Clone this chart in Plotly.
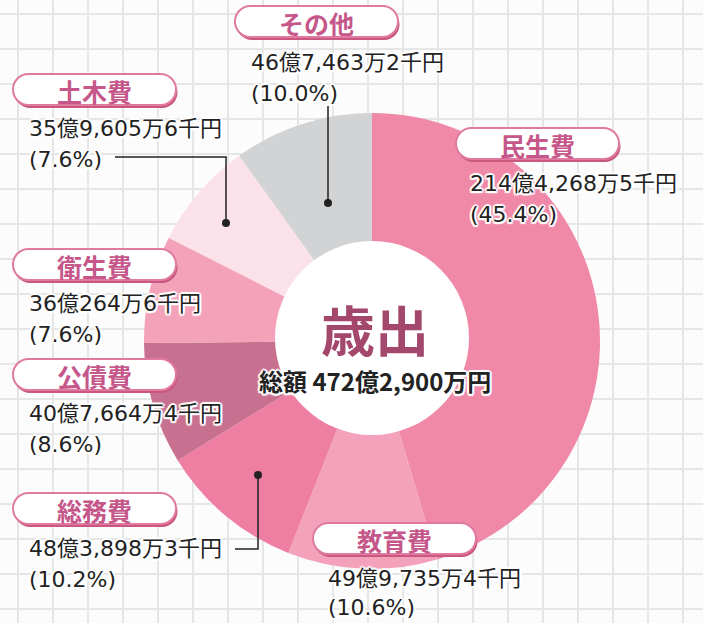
import plotly.graph_objects as go

# ---------------- data ----------------
categories = ["民生費", "教育費", "総務費", "公債費", "衛生費", "土木費", "その他"]
amounts_thousand_yen = [21442685, 4997354, 4838983, 4076644, 3602646, 3596056, 4674632]
amount_labels = ["214億4,268万5千円", "49億9,735万4千円", "48億3,898万3千円",
                 "40億7,664万4千円", "36億264万6千円", "35億9,605万6千円", "46億7,463万2千円"]
percent_labels = ["45.4%", "10.6%", "10.2%", "8.6%", "7.6%", "7.6%", "10.0%"]
center_title = "歳出"
total_label = "総額 472億2,900万円"

# ---------------- style ----------------
slice_colors = ["#f088a8", "#f4a1bb", "#ee7fa2", "#c8708f", "#f3a2ba", "#fbe2ea", "#d2d3d5"]
W, H = 703, 623
CX, CY, R = 372, 341, 228
HOLE_CX, HOLE_CY, HOLE_R = 372, 338, 97

# pill box (x0, y0) top-left, text anchor (x, y of first line, y of second line) per category
pill_xy = {
    "民生費": (456, 128), "教育費": (313, 523), "総務費": (13, 493),
    "公債費": (13, 359), "衛生費": (13, 249), "土木費": (13, 74), "その他": (235, 6),
}
text_xy = {
    "民生費": (468, 183, 214), "教育費": (326, 578, 607), "総務費": (27, 548, 579),
    "公債費": (27, 413, 444), "衛生費": (27, 303, 334), "土木費": (27, 128, 159), "その他": (249, 62, 93),
}
PILL_W, PILL_H = 163, 31
TEXT_SIZE = 22

FONT = "Noto Sans CJK JP"
VALUE_FONT = "DejaVu Sans, Noto Sans CJK JP"
halo = ("white 2px 0px 1px, white -2px 0px 1px, white 0px 2px 1px, white 0px -2px 1px, "
        "white 1.5px 1.5px 1px, white -1.5px -1.5px 1px, white 1.5px -1.5px 1px, white -1.5px 1.5px 1px")

fig = go.Figure()
# invisible cartesian trace to establish pixel-space axes
fig.add_trace(go.Scatter(x=[], y=[], xaxis="x", yaxis="y", showlegend=False, hoverinfo="skip"))

fig.add_trace(go.Pie(
    labels=categories,
    values=amounts_thousand_yen,
    sort=False,
    direction="clockwise",
    rotation=0,
    marker=dict(colors=slice_colors, line=dict(width=0)),
    textinfo="none",
    hoverinfo="label+value",
    showlegend=False,
    domain=dict(x=[(CX - R) / W, (CX + R) / W], y=[1 - (CY + R) / H, 1 - (CY - R) / H]),
))

shapes = []
# white hole
shapes.append(dict(type="circle", xref="x", yref="y", layer="above",
                   x0=HOLE_CX - HOLE_R, x1=HOLE_CX + HOLE_R, y0=HOLE_CY - HOLE_R, y1=HOLE_CY + HOLE_R,
                   fillcolor="white", line=dict(width=0)))


def pill_path(x0, y0, w, h):
    r = h / 2
    k = 0.5523 * r
    x1 = x0 + w
    y1 = y0 + h
    return (f"M{x0 + r},{y0} L{x1 - r},{y0} "
            f"C{x1 - r + k},{y0} {x1},{y0 + r - k} {x1},{y0 + r} "
            f"C{x1},{y0 + r + k} {x1 - r + k},{y1} {x1 - r},{y1} "
            f"L{x0 + r},{y1} "
            f"C{x0 + r - k},{y1} {x0},{y0 + r + k} {x0},{y0 + r} "
            f"C{x0},{y0 + r - k} {x0 + r - k},{y0} {x0 + r},{y0} Z")


annotations = []
for i, cat in enumerate(categories):
    px, py = pill_xy[cat]
    shapes.append(dict(type="path", xref="x", yref="y", layer="above",
                       path=pill_path(px + 1.5, py + 3, PILL_W, PILL_H),
                       fillcolor="#c9577f", line=dict(width=0)))
    shapes.append(dict(type="path", xref="x", yref="y", layer="above",
                       path=pill_path(px, py, PILL_W, PILL_H),
                       fillcolor="white", line=dict(color="#e07aa0", width=2)))
    annotations.append(dict(x=px + PILL_W / 2, y=py + PILL_H / 2 + 1, xref="x", yref="y",
                            text=f"<b>{cat}</b>", showarrow=False, xanchor="center", yanchor="middle",
                            font=dict(family=FONT, size=25, color="#c5578a")))
    tx, ty1, ty2 = text_xy[cat]
    annotations.append(dict(x=tx, y=ty1, xref="x", yref="y", text=amount_labels[i],
                            showarrow=False, xanchor="left", yanchor="middle",
                            font=dict(family=VALUE_FONT, size=TEXT_SIZE, color="#222222", shadow=halo)))
    annotations.append(dict(x=tx, y=ty2, xref="x", yref="y", text=f"({percent_labels[i]})",
                            showarrow=False, xanchor="left", yanchor="middle",
                            font=dict(family=VALUE_FONT, size=TEXT_SIZE, color="#222222", shadow=halo)))

# leader lines and dots
line_style = dict(color="#222222", width=1.5)
leaders = [
    [(328, 106), (328, 203)],
    [(115, 157), (226, 157), (226, 223)],
    [(235, 549), (258, 549), (258, 475)],
]
for pts in leaders:
    path = "M" + " L".join(f"{x},{y}" for x, y in pts)
    shapes.append(dict(type="path", xref="x", yref="y", layer="above", path=path, line=line_style))
    dx, dy = pts[-1]
    shapes.append(dict(type="circle", xref="x", yref="y", layer="above",
                       x0=dx - 4, x1=dx + 4, y0=dy - 4, y1=dy + 4,
                       fillcolor="#222222", line=dict(width=0)))

# center text
annotations.append(dict(x=375, y=328, xref="x", yref="y", text=f"<b>{center_title}</b>", showarrow=False,
                        xanchor="center", yanchor="middle",
                        font=dict(family=FONT, size=54, color="#a4476c", shadow=halo)))
annotations.append(dict(x=375, y=380, xref="x", yref="y", text=f"<b>{total_label}</b>", showarrow=False,
                        xanchor="center", yanchor="middle",
                        font=dict(family=FONT, size=24, color="#222222", shadow=halo)))

fig.update_layout(
    width=W, height=H,
    margin=dict(l=0, r=0, t=0, b=0),
    paper_bgcolor="#fcfcfc", plot_bgcolor="#fcfcfc",
    xaxis=dict(range=[0, W], showgrid=True, gridcolor="#e6e6e6", gridwidth=2, tick0=18, dtick=35,
               zeroline=False, showticklabels=False, ticks="", fixedrange=True),
    yaxis=dict(range=[H, 0], showgrid=True, gridcolor="#e6e6e6", gridwidth=2, tick0=14, dtick=35,
               zeroline=False, showticklabels=False, ticks="", fixedrange=True),
    shapes=shapes,
    annotations=annotations,
)

fig.write_html("out.html", config={"displayModeBar": False},
               post_script="document.body.style.margin='0';document.body.style.overflow='hidden';")
